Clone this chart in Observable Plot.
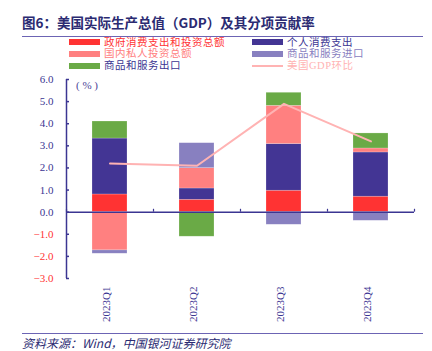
<!DOCTYPE html>
<html>
<head>
<meta charset="utf-8">
<script src="https://cdn.jsdelivr.net/npm/d3@7"></script>
<script src="https://cdn.jsdelivr.net/npm/@observablehq/plot@0.6"></script>
<style>
  html, body { margin: 0; padding: 0; background: #fff; }
  #wrap { position: relative; width: 432px; height: 351px; overflow: hidden; background: #fff; }
  .abs { position: absolute; white-space: nowrap; }
  #title { left: 22px; top: 13px; font: bold 13.5px "Noto Sans CJK SC", sans-serif; color: #2b2b72; line-height: 18px; }
  .hline { left: 22px; width: 401px; height: 0; border-top: 1px solid #6c64b4; }
  .leg { font: 10.5px "Liberation Serif", "Noto Sans CJK SC", serif; line-height: 11px; letter-spacing: 0.5px; }
  .sw { position: absolute; width: 31px; height: 6px; }
  #src { left: 22px; top: 335px; font: italic 12px "Noto Sans CJK SC", sans-serif; color: #2b2b72; line-height: 15px; }
  #unit { left: 76px; top: 78px; font: 11px "Liberation Serif", serif; color: #4a4496; line-height: 14px; }
  #chart { position: absolute; left: 0; top: 70px; }
</style>
</head>
<body>
<div id="wrap">
  <div id="title" class="abs">图6：美国实际生产总值（GDP）及其分项贡献率</div>
  <div class="abs hline" style="top:35.5px"></div>
  <div id="legend"></div>
  <div id="unit" class="abs">( % )</div>
  <div id="chart"></div>
  <div class="abs hline" style="top:333px"></div>
  <div id="src" class="abs">资料来源：Wind，中国银河证券研究院</div>
</div>
<script>
// ---- data ----
const quarters = ["2023Q1", "2023Q2", "2023Q3", "2023Q4"];
const seriesNames = ["政府消费支出和投资总额", "个人消费支出", "国内私人投资总额", "商品和服务进口", "商品和服务出口"];
const govt = [0.80, 0.56, 0.97, 0.70];
const personal = [2.53, 0.51, 2.11, 2.00];
const privateInv = [-1.73, 0.92, 1.73, 0.18];
const imports = [-0.15, 1.13, -0.57, -0.39];
const exportsV = [0.77, -1.11, 0.59, 0.68];
const gdp = [2.2, 2.1, 4.9, 3.2];
const gdpName = "美国GDP环比";
const yTicks = [-3, -2, -1, 0, 1, 2, 3, 4, 5, 6];

// ---- styles ----
const colors = ["#ff3333", "#433594", "#ff8080", "#8880c0", "#6aaa46"];
const lineColor = "#ffb3b3";
const navy = "#3b3592";
const red = "#ff3333";

const seriesValues = [govt, personal, privateInv, imports, exportsV];
const rows = [];
quarters.forEach((q, i) => {
  seriesNames.forEach((s, j) => rows.push({q, s, v: seriesValues[j][i]}));
});
const gdpRows = quarters.map((q, i) => ({q, v: gdp[i]}));

// legend (HTML)
const legendItems = [
  {name: seriesNames[0], color: colors[0], text: colors[0], col: 0, row: 0},
  {name: seriesNames[2], color: colors[2], text: colors[2], col: 0, row: 1},
  {name: seriesNames[4], color: colors[4], text: navy, col: 0, row: 2},
  {name: seriesNames[1], color: colors[1], text: navy, col: 1, row: 0},
  {name: seriesNames[3], color: colors[3], text: colors[3], col: 1, row: 1},
  {name: gdpName, color: lineColor, text: lineColor, col: 1, row: 2, line: true}
];
const rowY = [42, 53.8, 65.6];
const colX = [69, 252];
const legend = document.getElementById("legend");
for (const it of legendItems) {
  const sw = document.createElement("div");
  sw.className = "sw";
  sw.style.left = colX[it.col] + "px";
  const h = it.line ? 2 : 6;
  sw.style.height = h + "px";
  sw.style.top = (rowY[it.row] - h / 2) + "px";
  sw.style.background = it.color;
  legend.appendChild(sw);
  const t = document.createElement("div");
  t.className = "abs leg";
  t.style.left = (colX[it.col] + 35) + "px";
  t.style.top = (rowY[it.row] - 5.5) + "px";
  t.style.color = it.text;
  t.textContent = it.name;
  legend.appendChild(t);
}

const fmt = d => (d < 0 ? "\u2212" : "") + Math.abs(d).toFixed(1);
const half = (432 - 66 - 18) / quarters.length / 2;

const chart = Plot.plot({
  width: 432,
  height: 260,
  marginTop: 9,
  marginBottom: 52,
  marginLeft: 66,
  marginRight: 18,
  x: {domain: quarters, padding: 0, axis: null},
  y: {domain: [-3, 6], axis: null},
  color: {domain: seriesNames, range: colors},
  style: {fontFamily: "'Liberation Serif', serif", fontSize: "11px", background: "transparent", overflow: "visible"},
  marks: [
    Plot.barY(rows, {x: "q", y: "v", fill: "s", insetLeft: 26, insetRight: 26, stroke: "#ffffff", strokeOpacity: 0.35, strokeWidth: 0.6}),
    Plot.line(gdpRows, {x: "q", y: "v", stroke: lineColor, strokeWidth: 2}),
    Plot.ruleY([0], {stroke: navy, strokeWidth: 1.5}),
    Plot.ruleX(quarters, {x: d => d, dx: -half, y1: 0, y2: 0.13, stroke: navy, strokeWidth: 1.2}),
    Plot.ruleX([quarters[quarters.length - 1]], {x: d => d, dx: half, y1: 0, y2: 0.13, stroke: navy, strokeWidth: 1.2}),
    Plot.ruleX([quarters[0]], {x: d => d, dx: -half, y1: -3, y2: 6, stroke: navy, strokeWidth: 1.5}),
    Plot.tickY(yTicks, {y: d => d, x: () => quarters[0], insetRight: 2 * half - 3, stroke: navy, strokeWidth: 1.5}),
    Plot.text(yTicks.filter(d => d >= 0), {y: d => d, frameAnchor: "left", textAnchor: "end", dx: -13, text: fmt, fill: navy}),
    Plot.text(yTicks.filter(d => d < 0), {y: d => d, frameAnchor: "left", textAnchor: "end", dx: -13, text: fmt, fill: red}),
    Plot.text(quarters, {x: d => d, frameAnchor: "bottom", rotate: -90, textAnchor: "end", dy: 8, text: d => d, fill: navy})
  ]
});
document.getElementById("chart").appendChild(chart);
</script>
</body>
</html>
